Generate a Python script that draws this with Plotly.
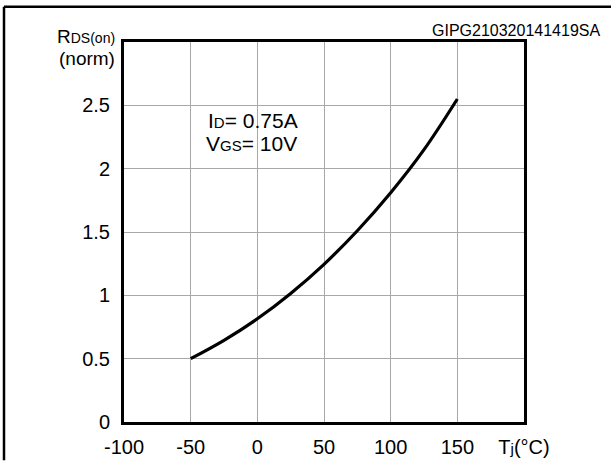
import plotly.graph_objects as go

# Data
temps = [-50, -25, 0, 25, 50, 75, 100, 125, 150]
rds_norm = [0.50, 0.645, 0.815, 1.015, 1.245, 1.51, 1.81, 2.15, 2.55]

x_ticks = [-100, -50, 0, 50, 100, 150, 200]
x_tick_labels = ["-100", "-50", "0", "50", "100", "150", "T<span style='font-size:15px'>j</span>(°C)"]
y_ticks = [0, 0.5, 1, 1.5, 2, 2.5]
y_tick_labels = ["0", "0.5", "1", "1.5", "2", "2.5"]

FONT = "Liberation Sans, Arial, Helvetica, sans-serif"
W, H = 611, 470
L, R, T, B = 124, 87, 42, 30
pw, ph = W - L - R, H - T - B

def px_x(p):
    return (p - L) / pw

def px_y(p):
    return (H - B - p) / ph

fig = go.Figure()
fig.add_trace(go.Scatter(
    x=temps, y=rds_norm, mode="lines",
    line=dict(color="black", width=3.2, shape="spline", smoothing=1.0),
    hoverinfo="skip", showlegend=False,
))

axis_common = dict(
    showgrid=True, gridcolor="#a8a8a8", gridwidth=1.3,
    showline=True, linecolor="black", linewidth=3, mirror=True,
    zeroline=False, ticks="", tickfont=dict(family=FONT, size=20, color="black"),
    fixedrange=True,
)

fig.update_xaxes(range=[-100, 200], tickvals=x_ticks, ticktext=x_tick_labels,
                 ticklabelstandoff=5, **axis_common)
fig.update_yaxes(range=[0, 3], tickvals=y_ticks, ticktext=y_tick_labels,
                 ticklabelstandoff=7, **axis_common)

annotations = [
    dict(text="R<span style='font-size:14px'>DS(on)</span>", xref="paper", yref="paper",
         x=0, y=1, xanchor="right", yanchor="middle", xshift=-7, yshift=6,
         showarrow=False, font=dict(family=FONT, size=19, color="black")),
    dict(text="(norm)", xref="paper", yref="paper",
         x=0, y=1, xanchor="right", yanchor="middle", xshift=-7, yshift=-16,
         showarrow=False, font=dict(family=FONT, size=19, color="black")),
    dict(text="I<span style='font-size:15px'>D</span>= 0.75A", xref="x", yref="y",
         x=-38.5, y=2.38, xanchor="left", yanchor="middle",
         showarrow=False, font=dict(family=FONT, size=21, color="black")),
    dict(text="V<span style='font-size:15px'>GS</span>= 10V", xref="x", yref="y",
         x=-40, y=2.2, xanchor="left", yanchor="middle",
         showarrow=False, font=dict(family=FONT, size=21, color="black")),
    dict(text="GIPG210320141419SA", xref="paper", yref="paper",
         x=px_x(602), y=px_y(30), xanchor="right", yanchor="middle",
         showarrow=False, font=dict(family=FONT, size=16, color="black")),
]

shapes = [
    dict(type="line", xref="paper", yref="paper", x0=px_x(4), x1=px_x(620),
         y0=px_y(5), y1=px_y(5), line=dict(color="black", width=2.5)),
    dict(type="line", xref="paper", yref="paper", x0=px_x(4), x1=px_x(4),
         y0=px_y(5), y1=px_y(480), line=dict(color="black", width=2.5)),
]

fig.update_layout(
    width=W, height=H,
    margin=dict(l=L, r=R, t=T, b=B, pad=0),
    paper_bgcolor="white", plot_bgcolor="white",
    annotations=annotations, shapes=shapes,
    font=dict(family=FONT, color="black"),
)

fig.write_html(
    "out.html",
    config={"displayModeBar": False},
    post_script="document.body.style.margin='0px';document.body.style.overflow='hidden';",
)
